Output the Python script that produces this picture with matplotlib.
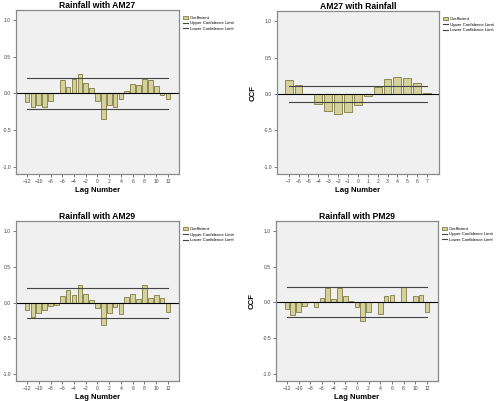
import matplotlib.pyplot as plt
import numpy as np

plt.rcParams['font.family'] = ['Liberation Sans', 'DejaVu Sans']

# lags
lags_12 = np.arange(-12, 13)
lags_7 = np.arange(-7, 8)

# cross-correlation coefficients
ccf_rain_am27 = [-0.11, -0.18, -0.16, -0.19, -0.10, 0.005, 0.18, 0.09, 0.20, 0.27, 0.14, 0.07,
                 -0.10, -0.35, -0.16, -0.19, -0.07, 0.04, 0.13, 0.11, 0.20, 0.18, 0.10, -0.02, -0.07]
ccf_am27_rain = [0.20, 0.12, -0.005, -0.14, -0.23, -0.27, -0.24, -0.15, -0.03, 0.10, 0.21, 0.24,
                 0.22, 0.15, 0.01]
ccf_rain_am29 = [-0.10, -0.20, -0.15, -0.11, -0.045, -0.03, 0.09, 0.17, 0.11, 0.24, 0.12, 0.04,
                 -0.08, -0.31, -0.15, -0.065, -0.165, 0.08, 0.12, 0.045, 0.24, 0.07, 0.11, 0.07, -0.13]
ccf_rain_pm29 = [-0.09, -0.18, -0.14, -0.05, 0.005, -0.06, 0.055, 0.20, 0.045, 0.20, 0.095, 0.015,
                 -0.07, -0.26, -0.13, 0.0, -0.16, 0.09, 0.11, 0.005, 0.21, 0.0, 0.095, 0.10, -0.14]

# confidence limits
ci_rain_am27 = (0.21, -0.21)
ci_am27_rain = (0.105, -0.11)
ci_rain_am29 = (0.21, -0.21)
ci_rain_pm29 = (0.21, -0.21)

panels = [
    ("Rainfall with AM27", lags_12, ccf_rain_am27, ci_rain_am27, [0.032, 0.566, 0.329, 0.409], False),
    ("AM27 with Rainfall", lags_7, ccf_am27_rain, ci_am27_rain, [0.558, 0.566, 0.327, 0.406], True),
    ("Rainfall with AM29", lags_12, ccf_rain_am29, ci_rain_am29, [0.032, 0.050, 0.329, 0.398], False),
    ("Rainfall with PM29", lags_12, ccf_rain_pm29, ci_rain_pm29, [0.556, 0.050, 0.327, 0.399], True),
]

bar_face = '#d5d19b'
bar_edge = '#7f7b45'

fig = plt.figure(figsize=(4.96, 4.01), dpi=100)

for title, lags, vals, ci, rect, show_ylabel in panels:
    ax = fig.add_axes(rect)
    ax.set_facecolor('#f0f0f0')
    b = ax.bar(lags, vals, width=0.8, color=bar_face, edgecolor=bar_edge, linewidth=0.6)
    up, = ax.plot(lags, [ci[0]] * len(lags), color='#444444', lw=0.8)
    lo, = ax.plot(lags, [ci[1]] * len(lags), color='#444444', lw=0.8)
    ax.axhline(0, color='black', lw=0.8)

    pad = 1.9 if len(lags) > 15 else 1.2
    ax.set_xlim(lags[0] - pad, lags[-1] + pad)
    ax.set_ylim(-1.1, 1.14)
    ax.set_yticks([-1.0, -0.5, 0.0, 0.5, 1.0])
    ax.set_yticklabels(['-1.0', '-0.5', '0.0', '0.5', '1.0'])
    if len(lags) > 15:
        ax.set_xticks(lags[::2])
    else:
        ax.set_xticks(lags)
    ax.tick_params(labelsize=3.6, length=2, width=0.5, colors='#444444', pad=1.5)

    for s in ax.spines.values():
        s.set_color('#8a8a8a')
        s.set_linewidth(0.9)

    ax.set_title(title, fontsize=6.2, fontweight='bold', pad=1.5)
    ax.set_xlabel('Lag Number', fontsize=5.6, fontweight='bold', labelpad=2)
    if show_ylabel:
        ax.set_ylabel('CCF', fontsize=5.6, fontweight='bold', labelpad=5)

    ax.legend([b, up, lo], ['Coefficient', 'Upper Confidence Limit', 'Lower Confidence Limit'],
              loc='upper left', bbox_to_anchor=(1.01, 0.98), fontsize=3.1, frameon=False,
              handlelength=1.2, handleheight=0.7, borderaxespad=0.2, labelspacing=0.35,
              handletextpad=0.35)

plt.savefig('out.png', dpi=100)
